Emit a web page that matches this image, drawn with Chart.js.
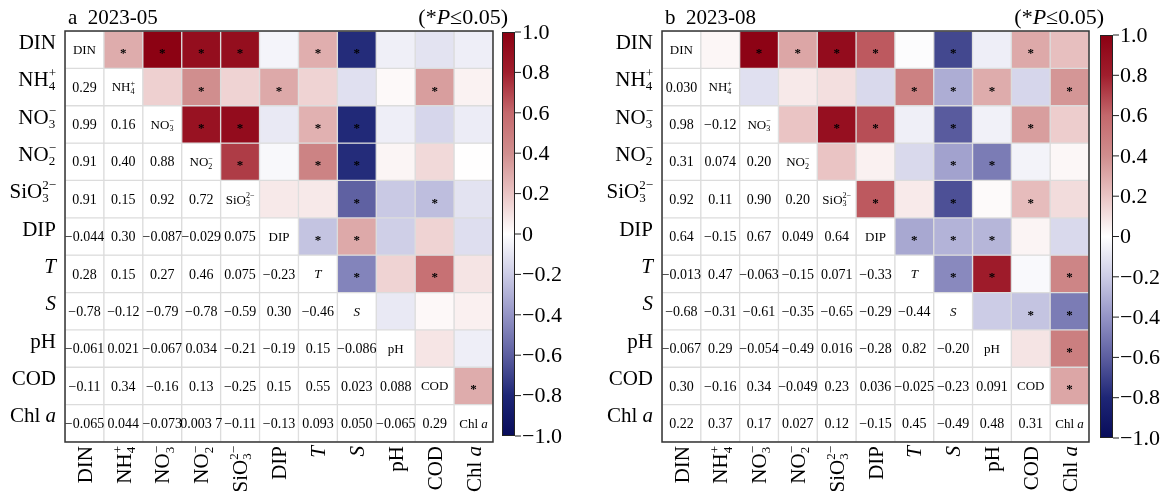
<!DOCTYPE html>
<html>
<head>
<meta charset="utf-8">
<script src="https://cdn.jsdelivr.net/npm/chart.js@4.4.1/dist/chart.umd.min.js"></script>
<style>
  body { margin: 0; background: #fff; }
  canvas { position: absolute; top: 0; }
  #may { left: 0; }
  #aug { left: 590px; }
</style>
</head>
<body>
<canvas id="may" width="590" height="492"></canvas>
<canvas id="aug" width="580" height="492"></canvas>
<script>
// variables (categories)
const variables = ['DIN', 'NH4+', 'NO3-', 'NO2-', 'SiO3 2-', 'DIP', 'T', 'S', 'pH', 'COD', 'Chl a'];

// lower triangle of the correlation matrix, row i holds columns 0..i-1
const mayCorr = [
  [],
  [0.29],
  [0.99, 0.16],
  [0.91, 0.40, 0.88],
  [0.91, 0.15, 0.92, 0.72],
  [-0.044, 0.30, -0.087, -0.029, 0.075],
  [0.28, 0.15, 0.27, 0.46, 0.075, -0.23],
  [-0.78, -0.12, -0.79, -0.78, -0.59, 0.30, -0.46],
  [-0.061, 0.021, -0.067, 0.034, -0.21, -0.19, 0.15, -0.086],
  [-0.11, 0.34, -0.16, 0.13, -0.25, 0.15, 0.55, 0.023, 0.088],
  [-0.065, 0.044, -0.073, 0.0037, -0.11, -0.13, 0.093, 0.050, -0.065, 0.29]
];
// 1 = P <= 0.05 (same layout as mayCorr)
const maySig = [
  [],
  [1],
  [1, 0],
  [1, 1, 1],
  [1, 0, 1, 1],
  [0, 1, 0, 0, 0],
  [1, 0, 1, 1, 0, 1],
  [1, 0, 1, 1, 1, 1, 1],
  [0, 0, 0, 0, 0, 0, 0, 0],
  [0, 1, 0, 0, 1, 0, 1, 0, 0],
  [0, 0, 0, 0, 0, 0, 0, 0, 0, 1]
];

const augCorr = [
  [],
  [0.030],
  [0.98, -0.12],
  [0.31, 0.074, 0.20],
  [0.92, 0.11, 0.90, 0.20],
  [0.64, -0.15, 0.67, 0.049, 0.64],
  [-0.013, 0.47, -0.063, -0.15, 0.071, -0.33],
  [-0.68, -0.31, -0.61, -0.35, -0.65, -0.29, -0.44],
  [-0.067, 0.29, -0.054, -0.49, 0.016, -0.28, 0.82, -0.20],
  [0.30, -0.16, 0.34, -0.049, 0.23, 0.036, -0.025, -0.23, 0.091],
  [0.22, 0.37, 0.17, 0.027, 0.12, -0.15, 0.45, -0.49, 0.48, 0.31]
];
const augSig = [
  [],
  [0],
  [1, 0],
  [1, 0, 0],
  [1, 0, 1, 0],
  [1, 0, 1, 0, 1],
  [0, 1, 0, 0, 0, 1],
  [1, 1, 1, 1, 1, 1, 1],
  [0, 1, 0, 1, 0, 1, 1, 0],
  [1, 0, 1, 0, 1, 0, 0, 1, 0],
  [0, 1, 0, 0, 0, 0, 1, 1, 1, 1]
];

// colour bar ticks
const cbTicks = [1, 0.8, 0.6, 0.4, 0.2, 0, -0.2, -0.4, -0.6, -0.8, -1];
const cbTickLabels = ['1.0', '0.8', '0.6', '0.4', '0.2', '0', '−0.2', '−0.4', '−0.6', '−0.8', '−1.0'];

const FONT = '"Liberation Serif", "Times New Roman", serif';

// label pieces (sub / superscripts, italics)
const labelParts = [
  [{ t: 'DIN' }],
  [{ t: 'NH' }, { sub: '4', sup: '+' }],
  [{ t: 'NO' }, { sub: '3', sup: '−' }],
  [{ t: 'NO' }, { sub: '2', sup: '−' }],
  [{ t: 'SiO' }, { sub: '3', sup: '2−' }],
  [{ t: 'DIP' }],
  [{ t: 'T', it: true }],
  [{ t: 'S', it: true }],
  [{ t: 'pH' }],
  [{ t: 'COD' }],
  [{ t: 'Chl ' }, { t: 'a', it: true }]
];

const colorStops = [
  [-1, [8, 12, 90]], [-0.8, [30, 38, 118]], [-0.6, [92, 94, 160]], [-0.4, [148, 148, 198]],
  [-0.2, [204, 204, 230]], [0, [255, 255, 255]], [0.2, [234, 196, 196]], [0.4, [208, 142, 142]],
  [0.6, [196, 104, 108]], [0.8, [160, 30, 45]], [1, [139, 0, 18]]
];

function corrColor(v) {
  for (let k = 1; k < colorStops.length; k++) {
    const [v1, c1] = colorStops[k];
    const [v0, c0] = colorStops[k - 1];
    if (v <= v1) {
      const t = (v - v0) / (v1 - v0);
      const c = c0.map((x, n) => Math.round(x + (c1[n] - x) * t));
      return `rgb(${c[0]},${c[1]},${c[2]})`;
    }
  }
  return 'rgb(139,0,18)';
}

function fmt(v) {
  let s = Math.abs(v).toPrecision(2);
  if (Math.abs(v) < 0.01) s = s.replace(/(\.\d{3})(\d)/, '$1 $2');
  return (v < 0 ? '−' : '') + s;
}

function corrAt(lower, i, j) {
  if (i === j) return 1;
  return i > j ? lower[i][j] : lower[j][i];
}

// draws a label made of pieces, vertically centred on y
function drawRich(ctx, parts, x, y, size, align) {
  const small = size * 0.62;
  let w = 0;
  const widths = parts.map(p => {
    let pw;
    if (p.t !== undefined) {
      ctx.font = (p.it ? 'italic ' : '') + size + 'px ' + FONT;
      pw = ctx.measureText(p.t).width;
    } else {
      ctx.font = small + 'px ' + FONT;
      pw = Math.max(ctx.measureText(p.sub).width, ctx.measureText(p.sup).width);
    }
    w += pw;
    return pw;
  });
  let cx = align === 'right' ? x - w : align === 'center' ? x - w / 2 : x;
  const base = y + size * 0.34;
  ctx.textAlign = 'left';
  ctx.textBaseline = 'alphabetic';
  parts.forEach((p, k) => {
    if (p.t !== undefined) {
      ctx.font = (p.it ? 'italic ' : '') + size + 'px ' + FONT;
      ctx.fillText(p.t, cx, base);
    } else {
      ctx.font = small + 'px ' + FONT;
      ctx.fillText(p.sup, cx, base - size * 0.42);
      ctx.fillText(p.sub, cx, base + size * 0.2);
    }
    cx += widths[k];
  });
}

function makePanel(id, title, lower, sig, pad, cb) {
  const n = variables.length;
  const datasets = variables.map((name, i) => ({
    label: name,
    data: variables.map(() => [i - 0.5, i + 0.5]),
    backgroundColor: variables.map((_, j) => j > i ? corrColor(corrAt(lower, i, j)) : '#ffffff'),
    borderColor: '#dcdcdc',
    borderWidth: 1,
    borderSkipped: false,
    grouped: false,
    barPercentage: 1,
    categoryPercentage: 1
  }));

  const decor = {
    id: 'decor',
    afterDatasetsDraw(chart) {
      const ctx = chart.ctx;
      const xs = chart.scales.x, ys = chart.scales.y;
      const a = chart.chartArea;
      ctx.save();
      ctx.fillStyle = '#000';
      for (let i = 0; i < n; i++) {
        for (let j = 0; j < n; j++) {
          const xc = xs.getPixelForValue(j);
          const yc = ys.getPixelForValue(i);
          if (i > j) {
            ctx.font = '14px ' + FONT;
            ctx.textAlign = 'center';
            ctx.textBaseline = 'middle';
            ctx.fillText(fmt(lower[i][j]), xc, yc + 1);
          } else if (i === j) {
            drawRich(ctx, labelParts[i], xc, yc, 13, 'center');
          } else if (sig[j][i]) {
            ctx.font = 'bold 13px ' + FONT;
            ctx.textAlign = 'center';
            ctx.textBaseline = 'alphabetic';
            ctx.fillText('*', xc, yc + 7.5);
          }
        }
      }
      // frame
      ctx.strokeStyle = '#333';
      ctx.lineWidth = 1.5;
      ctx.strokeRect(a.left, a.top, a.right - a.left, a.bottom - a.top);

      // axis labels
      for (let i = 0; i < n; i++) {
        drawRich(ctx, labelParts[i], a.left - 9, ys.getPixelForValue(i) - 8, 21, 'right');
        ctx.save();
        ctx.translate(xs.getPixelForValue(i), a.bottom + 4);
        ctx.rotate(-Math.PI / 2);
        drawRich(ctx, labelParts[i], 0, 0, 21, 'right');
        ctx.restore();
      }

      // titles
      ctx.fillStyle = '#000';
      ctx.font = '21px ' + FONT;
      ctx.textAlign = 'left';
      ctx.textBaseline = 'alphabetic';
      ctx.fillText(title, a.left + 3, 24);
      const pieces = [['(*', ''], ['P', 'italic '], ['≤0.05)', '']];
      let tw = 0;
      pieces.forEach(p => { ctx.font = p[1] + '22px ' + FONT; tw += ctx.measureText(p[0]).width; });
      let tx = a.right + 15 - tw;
      pieces.forEach(p => {
        ctx.font = p[1] + '22px ' + FONT;
        ctx.fillText(p[0], tx, 24);
        tx += ctx.measureText(p[0]).width;
      });

      // colour bar
      const x0 = a.right + cb.gap, bw = 13, top = cb.top, bot = cb.bottom;
      const grad = ctx.createLinearGradient(0, bot, 0, top);
      colorStops.forEach(s => grad.addColorStop((s[0] + 1) / 2, corrColor(s[0])));
      ctx.fillStyle = grad;
      ctx.fillRect(x0, top, bw, bot - top);
      ctx.strokeStyle = '#222';
      ctx.lineWidth = 1;
      ctx.strokeRect(x0 + 0.5, top + 0.5, bw - 1, bot - top - 1);
      ctx.fillStyle = '#000';
      ctx.font = '22px ' + FONT;
      ctx.textAlign = 'left';
      ctx.textBaseline = 'middle';
      cbTicks.forEach((v, k) => {
        const y = top + (1 - v) / 2 * (bot - top);
        ctx.beginPath();
        ctx.moveTo(x0 + bw, y);
        ctx.lineTo(x0 + bw + 6, y);
        ctx.stroke();
        ctx.fillText(cbTickLabels[k], x0 + bw + 7, y + 1);
      });
      ctx.restore();
    }
  };

  return new Chart(document.getElementById(id), {
    type: 'bar',
    data: { labels: variables, datasets },
    options: {
      responsive: false,
      animation: false,
      layout: { padding: pad },
      plugins: { legend: { display: false }, tooltip: { enabled: false } },
      scales: {
        x: { display: false, offset: true },
        y: { display: false, min: -0.5, max: n - 0.5, reverse: true }
      }
    },
    plugins: [decor]
  });
}

makePanel('may', 'a  2023-05', mayCorr, maySig,
  { left: 65, top: 31, right: 97, bottom: 50 }, { gap: 9, top: 32, bottom: 436 });
makePanel('aug', 'b  2023-08', augCorr, augSig,
  { left: 72, top: 31, right: 81, bottom: 50 }, { gap: 11, top: 35, bottom: 438 });
</script>
</body>
</html>
